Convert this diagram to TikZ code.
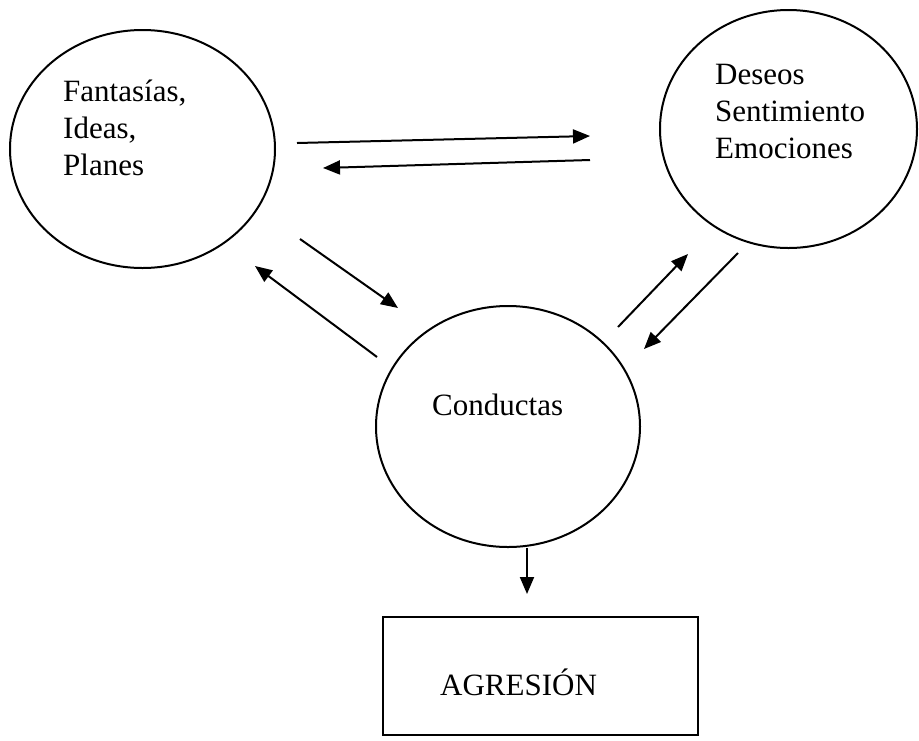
\documentclass[tikz,border=0pt]{standalone}
\usepackage{fontspec}
\setmainfont{Liberation Serif}
\usetikzlibrary{shapes.geometric,arrows.meta}
\begin{document}
\begin{tikzpicture}[x=1pt,y=-1pt,
  bubble/.style={ellipse,draw,line width=2pt,inner sep=0pt},
  lbl/.style={anchor=base west,inner sep=0pt,align=left,font=\fontsize{31}{37}\selectfont},
  conn/.style={line width=2pt,-{Triangle[length=17pt,width=14pt]}},
  box/.style={draw,line width=2pt}]
\useasboundingbox (0,0) rectangle (919,740);
\fill[white] (0,0) rectangle (919,740);
% ellipses
\node[bubble,minimum width=265,minimum height=238] (fan) at (142.5,149) {};
\node[bubble,minimum width=257,minimum height=238] (des) at (788.5,129) {};
\node[bubble,minimum width=264,minimum height=241] (con) at (508,426.5) {};
\node[box,minimum width=315,minimum height=118] (agr) at (540.5,676) {};
% texts (anchor at baseline of last line)
\node[lbl] (tfan) at (63,175) {Fantasías,\\Ideas,\\Planes};
\node[lbl] (tdes) at (715,158) {Deseos\\Sentimiento\\Emociones};
\node[lbl] (tcon) at (432,415) {Conductas};
\node[lbl] (tagr) at (440,695) {AGRESIÓN};
% arrow end points
\coordinate (a1s) at (297,143); \coordinate (a1e) at (590,136);
\coordinate (a2s) at (590,160); \coordinate (a2e) at (323,168);
\coordinate (a3s) at (300,239); \coordinate (a3e) at (398,308);
\coordinate (a4s) at (377,357); \coordinate (a4e) at (255,266);
\coordinate (a5s) at (618,327); \coordinate (a5e) at (688,254);
\coordinate (a6s) at (738,253); \coordinate (a6e) at (644,349);
\coordinate (a7e) at (527,594);
\draw[conn] (a1s) -- (a1e);
\draw[conn] (a2s) -- (a2e);
\draw[conn] (a3s) -- (a3e);
\draw[conn] (a4s) -- (a4e);
\draw[conn] (a5s) -- (a5e);
\draw[conn] (a6s) -- (a6e);
\draw[conn] (con.south -| a7e) -- (a7e);
\end{tikzpicture}
\end{document}
